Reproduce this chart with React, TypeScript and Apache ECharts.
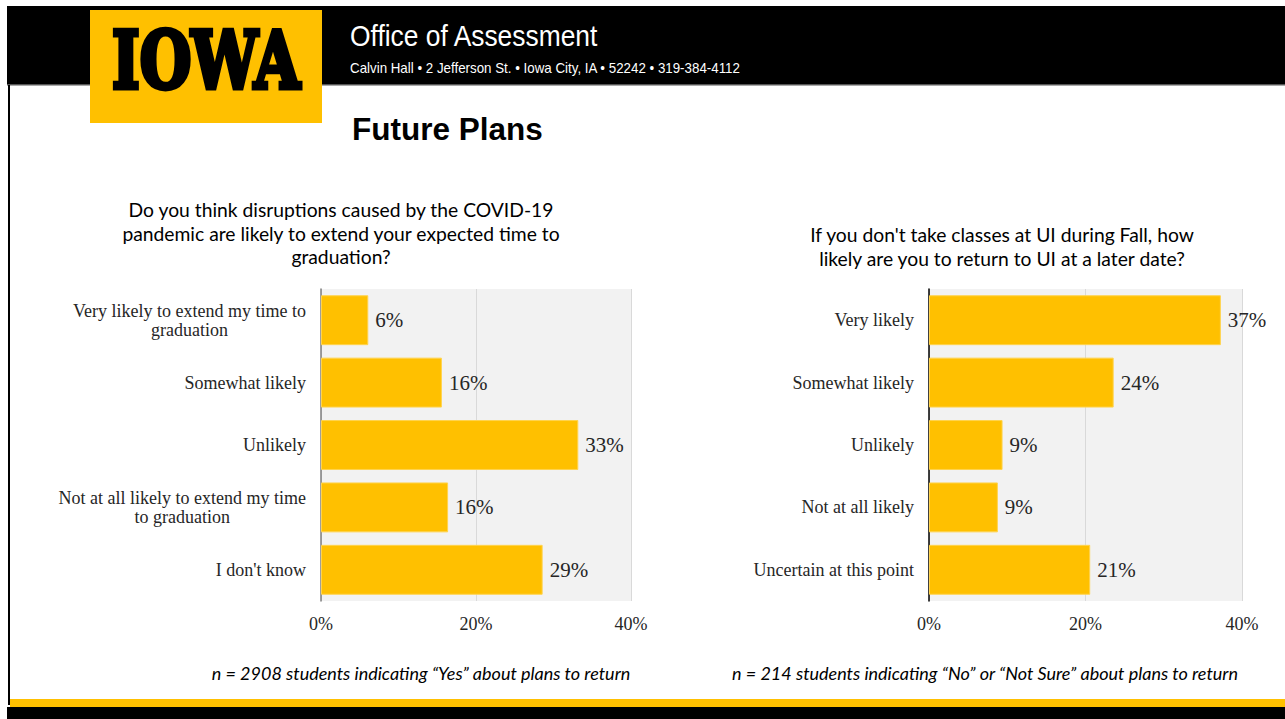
import React, { useEffect, useRef } from "react";
import * as echarts from "echarts";

const leftCategories = [
  "Very likely to extend my time to\ngraduation",
  "Somewhat likely",
  "Unlikely",
  "Not at all likely to extend my time\nto graduation",
  "I don't know",
];
const leftValues = [6.1, 15.6, 33.2, 16.4, 28.6];

const rightCategories = [
  "Very likely",
  "Somewhat likely",
  "Unlikely",
  "Not at all likely",
  "Uncertain at this point",
];
const rightValues = [37.3, 23.6, 9.4, 8.8, 20.6];

const axisMin = 0;
const axisMax = 40;
const axisInterval = 20;

const leftTitle =
  "Do you think disruptions caused by the COVID-19\npandemic are likely to extend your expected time to\ngraduation?";
const rightTitle =
  "If you don't take classes at UI during Fall, how\nlikely are you to return to UI at a later date?";
const leftNote = "n = 2908 students indicating \u201cYes\u201d about plans to return";
const rightNote =
  "n = 214 students indicating \u201cNo\u201d or \u201cNot Sure\u201d about plans to return";

const YELLOW = "#FFC000";
const SERIF = "'Liberation Serif', 'DejaVu Serif', serif";
const SANS = "Lato, 'Open Sans', sans-serif";
const ARIAL = "'Liberation Sans', Arial, sans-serif";

export default function App() {
  const ref = useRef<HTMLDivElement>(null);

  useEffect(() => {
    document.body.style.margin = "0";
    const chart = echarts.init(ref.current!, null, { renderer: "svg" });

    const xAxisCommon = (gridIndex: number) => ({
      type: "value",
      gridIndex,
      min: axisMin,
      max: axisMax,
      interval: axisInterval,
      axisLine: { show: false },
      axisTick: { show: false },
      splitLine: { show: true, lineStyle: { color: "#d9d9d9", width: 1 } },
      axisLabel: {
        formatter: "{value}%",
        fontFamily: SERIF,
        fontSize: 18,
        color: "#262626",
        margin: 14,
      },
    });

    const yAxisCommon = (gridIndex: number, data: string[], lineColor: string) => ({
      type: "category",
      gridIndex,
      data,
      inverse: true,
      axisLine: { show: true, lineStyle: { color: lineColor, width: 1.5 } },
      axisTick: { show: false },
      axisLabel: {
        margin: 15,
        align: "right",
        formatter: (v: string) =>
          v
            .split("\n")
            .map((l) => `{c|${l}}`)
            .join("\n"),
        rich: {
          c: {
            align: "center",
            fontFamily: SERIF,
            fontSize: 18,
            lineHeight: 19,
            color: "#262626",
          },
        },
      },
    });

    const seriesCommon = (idx: number, data: number[]) => ({
      type: "bar",
      xAxisIndex: idx,
      yAxisIndex: idx,
      data,
      barCategoryGap: "20%",
      itemStyle: { color: YELLOW, borderColor: "#FFD34D", borderWidth: 1 },
      label: {
        show: true,
        position: "right",
        distance: 7,
        fontFamily: SERIF,
        fontSize: 21,
        color: "#262626",
        formatter: (p: any) => `${Math.round(p.value)}%`,
      },
    });

    chart.setOption({
      animation: false,
      backgroundColor: "#ffffff",
      grid: [
        {
          left: 321,
          top: 289,
          width: 310,
          height: 312,
          show: true,
          backgroundColor: "#f2f2f2",
          borderWidth: 0,
        },
        {
          left: 929,
          top: 289,
          width: 313,
          height: 312,
          show: true,
          backgroundColor: "#f2f2f2",
          borderWidth: 0,
        },
      ],
      xAxis: [xAxisCommon(0), xAxisCommon(1)],
      yAxis: [
        yAxisCommon(0, leftCategories, "#7f7f7f"),
        yAxisCommon(1, rightCategories, "#000000"),
      ],
      series: [seriesCommon(0, leftValues), seriesCommon(1, rightValues)],
      graphic: [
        // header bar
        { type: "rect", shape: { x: 7, y: 6, width: 1278, height: 79 }, style: { fill: "#000" } },
        { type: "rect", shape: { x: 7, y: 84, width: 1278, height: 1.5 }, style: { fill: "#555" } },
        // left border
        { type: "rect", shape: { x: 8, y: 85, width: 2, height: 620 }, style: { fill: "#000" } },
        // bottom stripes
        { type: "rect", shape: { x: 10, y: 699, width: 1275, height: 8 }, style: { fill: YELLOW } },
        { type: "rect", shape: { x: 7, y: 707, width: 1278, height: 12 }, style: { fill: "#000" } },
        // logo box
        { type: "rect", shape: { x: 90, y: 10, width: 232, height: 113 }, style: { fill: YELLOW } },
        {
          type: "text",
          x: 206,
          y: 60,
          scaleX: 0.76,
          style: {
            text: "IOWA",
            x: 0,
            y: 0,
            align: "center",
            verticalAlign: "middle",
            fontFamily: "'DejaVu Serif', serif",
            fontWeight: "bold",
            fontSize: 78,
            fill: "#000",
            stroke: "#000",
            lineWidth: 5,
          },
        },
        {
          type: "text",
          x: 350,
          y: 36,
          scaleX: 0.91,
          style: {
            text: "Office of Assessment",
            x: 0,
            y: 0,
            verticalAlign: "middle",
            fontFamily: ARIAL,
            fontSize: 29,
            fill: "#fff",
          },
        },
        {
          type: "text",
          x: 350,
          y: 68,
          scaleX: 0.92,
          style: {
            text: "Calvin Hall \u2022 2 Jefferson St. \u2022 Iowa City, IA \u2022 52242 \u2022 319-384-4112",
            x: 0,
            y: 0,
            verticalAlign: "middle",
            fontFamily: ARIAL,
            fontSize: 14.5,
            fill: "#fff",
          },
        },
        {
          type: "text",
          x: 352,
          y: 129,
          style: {
            text: "Future Plans",
            x: 0,
            y: 0,
            verticalAlign: "middle",
            fontFamily: ARIAL,
            fontWeight: "bold",
            fontSize: 31.5,
            fill: "#000",
          },
        },
        {
          type: "text",
          x: 341,
          y: 198,
          style: {
            text: leftTitle,
            x: 0,
            y: 0,
            align: "center",
            verticalAlign: "top",
            fontFamily: SANS,
            fontSize: 19.3,
            lineHeight: 23.5,
            fill: "#000",
          },
        },
        {
          type: "text",
          x: 1002,
          y: 223,
          style: {
            text: rightTitle,
            x: 0,
            y: 0,
            align: "center",
            verticalAlign: "top",
            fontFamily: SANS,
            fontSize: 19.3,
            lineHeight: 23.5,
            fill: "#000",
          },
        },
        {
          type: "text",
          x: 421,
          y: 673,
          style: {
            text: leftNote,
            x: 0,
            y: 0,
            align: "center",
            verticalAlign: "middle",
            fontFamily: SANS,
            fontStyle: "italic",
            fontSize: 18,
            fill: "#000",
          },
        },
        {
          type: "text",
          x: 985,
          y: 673,
          style: {
            text: rightNote,
            x: 0,
            y: 0,
            align: "center",
            verticalAlign: "middle",
            fontFamily: SANS,
            fontStyle: "italic",
            fontSize: 18,
            fill: "#000",
          },
        },
      ],
    });

    return () => chart.dispose();
  }, []);

  return (
    <div
      ref={ref}
      style={{ position: "absolute", left: 0, top: 0, width: 1285, height: 719 }}
    />
  );
}
